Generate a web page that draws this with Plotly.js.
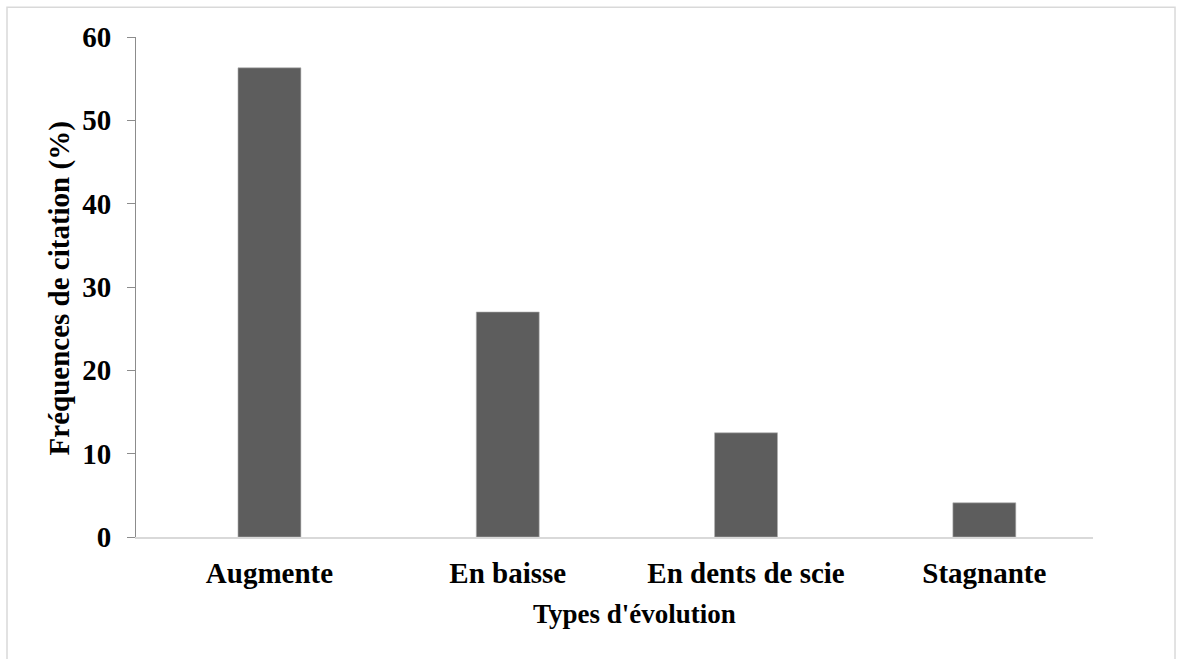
<!DOCTYPE html>
<html>
<head>
<meta charset="utf-8">
<script src="https://cdn.plot.ly/plotly-3.0.1.min.js"></script>
<style>
  html, body { margin: 0; padding: 0; background: #ffffff; }
  #chart { width: 1179px; height: 659px; }
</style>
</head>
<body>
<div id="chart"></div>
<script>
const categories = ["Augmente", "En baisse", "En dents de scie", "Stagnante"];
const frequencies = [56.3, 27.0, 12.5, 4.1];
const yTickValues = [0, 10, 20, 30, 40, 50, 60];
const xTitle = "Types d'évolution";
const yTitle = "Fréquences de citation (%)";

const serif = "'Liberation Serif', 'Times New Roman', serif";

const trace = {
  type: "bar",
  x: categories,
  y: frequencies,
  marker: { color: "#5d5d5d", line: { color: "#b0b0b0", width: 0.6 } },
  hoverinfo: "x+y"
};

const layout = {
  width: 1179,
  height: 659,
  margin: { l: 136, r: 86, t: 37, b: 122 },
  paper_bgcolor: "#ffffff",
  plot_bgcolor: "#ffffff",
  showlegend: false,
  bargap: 0.736,
  font: { family: serif, color: "#000000" },
  xaxis: {
    type: "category",
    range: [-0.56, 3.456],
    showgrid: false,
    zeroline: false,
    showline: true,
    linecolor: "#d9d9d9",
    linewidth: 1.5,
    ticks: "",
    tickfont: { family: serif, size: 29, color: "#000000", weight: "bold" },
    ticklabelstandoff: 9
  },
  yaxis: {
    range: [0, 60],
    tickvals: yTickValues,
    showgrid: false,
    zeroline: false,
    showline: true,
    linecolor: "#8c8c8c",
    linewidth: 1,
    ticks: "outside",
    ticklen: 8,
    tickcolor: "#8c8c8c",
    tickfont: { family: serif, size: 29, color: "#000000", weight: "bold" },
    ticklabelstandoff: 10
  },
  annotations: [
    {
      text: xTitle,
      xref: "paper", yref: "paper",
      x: 0.5204, y: -0.153,
      xanchor: "center", yanchor: "middle",
      showarrow: false,
      font: { family: serif, size: 27, color: "#000000", weight: "bold" }
    },
    {
      text: yTitle,
      xref: "paper", yref: "paper",
      x: -0.0795, y: 0.497,
      xanchor: "center", yanchor: "middle",
      textangle: -90,
      showarrow: false,
      font: { family: serif, size: 29, color: "#000000", weight: "bold" }
    }
  ],
  shapes: [
    {
      type: "rect",
      xref: "paper", yref: "paper",
      x0: -0.1348, x1: 1.0857, y0: -0.3, y1: 1.0593,
      line: { color: "#d9d9d9", width: 1.5 },
      fillcolor: "rgba(0,0,0,0)",
      layer: "below"
    }
  ]
};

Plotly.newPlot("chart", [trace], layout, { displayModeBar: false });
</script>
</body>
</html>
